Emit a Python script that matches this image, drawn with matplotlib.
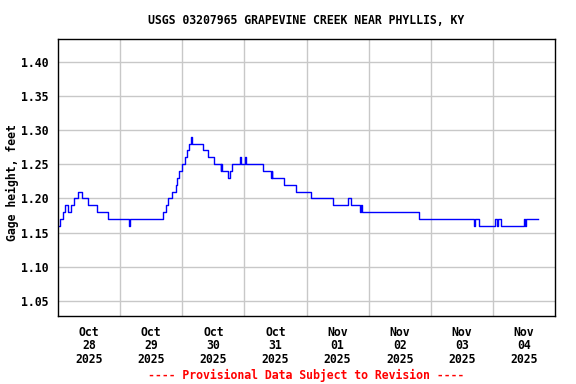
import matplotlib
matplotlib.use("Agg")
import matplotlib.pyplot as plt
import pandas as pd

# ---- data: change points (hours since 2025-10-28 00:00) and gage height (ft)
change_hours = [0.0, 0.8, 2.0, 2.8, 4.0, 4.9, 6.3, 7.9, 9.2, 11.5, 15.1, 19.4,
                27.5, 28.0, 40.4, 41.6, 42.5, 44.1, 45.4, 46.0, 46.9, 47.9,
                49.2, 50.0, 50.7, 51.3, 51.7, 56.2, 58.1, 60.1, 62.8, 63.0,
                63.2, 65.5, 66.3, 67.2, 70.5, 70.8, 72.1, 72.5, 79.1, 82.4,
                82.6, 82.8, 87.3, 91.9, 97.6, 106.2, 112.1, 113.0, 116.5,
                116.9, 117.3, 139.3, 160.6, 161.0, 162.5, 169.0, 169.6, 169.9,
                171.0, 180.2, 180.6, 180.9, 185.3]
gage_ft = [1.16, 1.17, 1.18, 1.19, 1.18, 1.19, 1.20, 1.21, 1.20, 1.19, 1.18, 1.17,
           1.16, 1.17, 1.18, 1.19, 1.20, 1.21, 1.22, 1.23, 1.24, 1.25,
           1.26, 1.27, 1.28, 1.29, 1.28, 1.27, 1.26, 1.25, 1.24, 1.25,
           1.24, 1.23, 1.24, 1.25, 1.26, 1.25, 1.26, 1.25, 1.24, 1.23,
           1.24, 1.23, 1.22, 1.21, 1.20, 1.19, 1.20, 1.19, 1.18,
           1.19, 1.18, 1.17, 1.16, 1.17, 1.16, 1.17, 1.16, 1.17,
           1.16, 1.17, 1.16, 1.17, 1.17]

start_date = "2025-10-28"
n_days = 8
y_ticks = [1.05, 1.10, 1.15, 1.20, 1.25, 1.30, 1.35, 1.40]
y_limits = (1.028, 1.433)

title = "USGS 03207965 GRAPEVINE CREEK NEAR PHYLLIS, KY"
ylabel = "Gage height, feet"
footer = "---- Provisional Data Subject to Revision ----"

# ---- plot
font = "DejaVu Sans Mono"
fs = 8.3
plt.rcParams["font.family"] = font
plt.rcParams["font.weight"] = "bold"

t0 = pd.Timestamp(start_date)
times = [t0 + pd.Timedelta(hours=h) for h in change_hours]

fig = plt.figure(figsize=(5.76, 3.84), dpi=100)
ax = fig.add_axes([58/576, 1-316/384, (555-58)/576, (316-39)/384])

ax.plot(times, gage_ft, drawstyle="steps-post", color="#0000ff", lw=1.0)

ax.set_xlim(t0, t0 + pd.Timedelta(days=n_days))
ax.set_ylim(*y_limits)

# gridlines at midnights, labels at noon
midnights = [t0 + pd.Timedelta(days=d) for d in range(1, n_days)]
noons = [t0 + pd.Timedelta(days=d, hours=12) for d in range(n_days)]
ax.set_xticks(midnights)
ax.set_xticks(noons, minor=True)
ax.set_xticklabels([])
ax.set_xticklabels([d.strftime("%b\n%d\n%Y") for d in noons], minor=True,
                   fontsize=fs, fontweight="bold", linespacing=1.07)
ax.tick_params(axis="x", which="both", length=0, pad=7)
ax.xaxis.grid(True, which="major", color="#c8c8c8", lw=1)

ax.set_yticks(y_ticks)
ax.set_yticklabels([f"{v:.2f}" for v in y_ticks], fontsize=fs, fontweight="bold")
ax.tick_params(axis="y", length=0, pad=7)
ax.yaxis.grid(True, color="#c8c8c8", lw=1)
ax.set_axisbelow(True)

for s in ax.spines.values():
    s.set_color("black")
    s.set_linewidth(1.0)

fig.text(12/576, 1-183/384, ylabel, rotation=90, ha="center", va="center",
         fontsize=fs, fontweight="bold")
fig.text(306.5/576, 1-20/384, title, ha="center", va="center",
         fontsize=fs, fontweight="bold")
fig.text(306.5/576, 1-375/384, footer, ha="center", va="center",
         fontsize=fs, fontweight="bold", color="#ff0000")

fig.savefig("out.png", dpi=100)
